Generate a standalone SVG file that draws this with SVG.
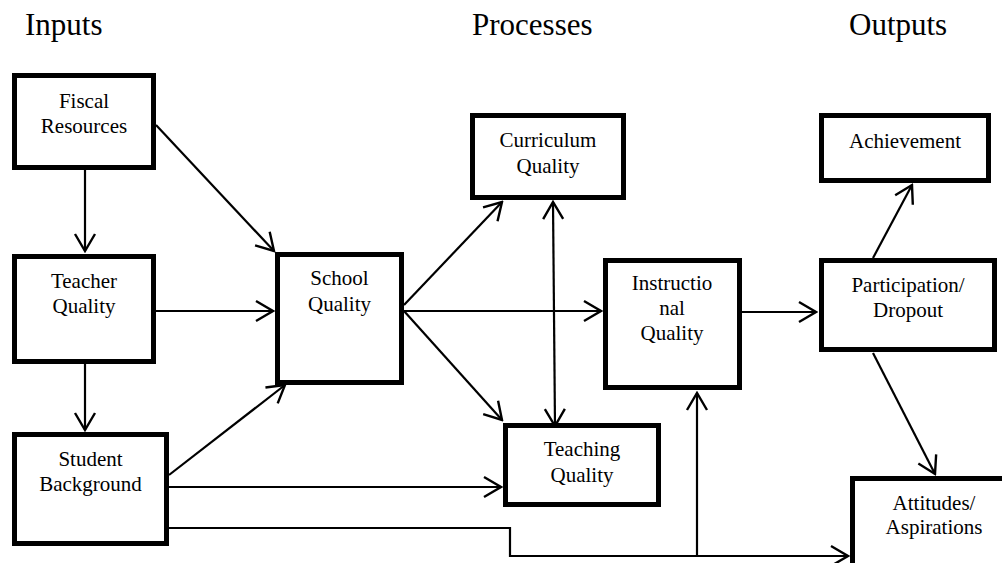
<svg xmlns="http://www.w3.org/2000/svg" width="1002" height="563" viewBox="0 0 1002 563">
<style>
  .box { fill: #fff; stroke: #000; stroke-width: 5; }
  text { font-family: 'Liberation Serif', 'DejaVu Serif', 'Times New Roman', Times, serif; fill: #000; }
  .lbl { font-size: 21px; text-anchor: middle; }
  .hdr { font-size: 31px; }
  .con { fill: none; stroke: #000; stroke-width: 2.2; }
</style>
<defs>
  <marker id="arr" markerUnits="userSpaceOnUse" viewBox="-19 -12 21 24" refX="0" refY="0" markerWidth="21" markerHeight="24" orient="auto-start-reverse">
    <path d="M-17,-10 L0,0 L-17,10" fill="none" stroke="#000" stroke-width="2.4" stroke-linejoin="miter"/>
  </marker>
</defs>
<rect width="1002" height="563" fill="#fff"/>

<g id="headers" font-family="Liberation Serif, DejaVu Serif, serif">
  <text class="hdr" x="25" y="35">Inputs</text>
  <text class="hdr" x="472" y="35">Processes</text>
  <text class="hdr" x="849" y="35">Outputs</text>
</g>

<g id="connectors">
  <line class="con" x1="85" y1="170" x2="85" y2="251" marker-end="url(#arr)"/>
  <line class="con" x1="85" y1="364" x2="85" y2="430" marker-end="url(#arr)"/>
  <line class="con" x1="156" y1="125" x2="274" y2="251" marker-end="url(#arr)"/>
  <line class="con" x1="156" y1="311" x2="273" y2="311" marker-end="url(#arr)"/>
  <line class="con" x1="169" y1="475" x2="285" y2="385" marker-end="url(#arr)"/>
  <line class="con" x1="169" y1="487" x2="501" y2="487" marker-end="url(#arr)"/>
  <polyline class="con" points="169,528 510,528 510,556 848,556" marker-end="url(#arr)"/>
  <line class="con" x1="697" y1="556" x2="697" y2="393" marker-end="url(#arr)"/>
  <line class="con" x1="404" y1="305" x2="502" y2="202" marker-end="url(#arr)"/>
  <line class="con" x1="404" y1="311" x2="601" y2="311" marker-end="url(#arr)"/>
  <line class="con" x1="404" y1="311" x2="502" y2="420" marker-end="url(#arr)"/>
  <line class="con" x1="553" y1="202" x2="555" y2="426" marker-start="url(#arr)" marker-end="url(#arr)"/>
  <line class="con" x1="742" y1="312" x2="816" y2="312" marker-end="url(#arr)"/>
  <line class="con" x1="873" y1="258" x2="912" y2="185" marker-end="url(#arr)"/>
  <line class="con" x1="873" y1="353" x2="935" y2="474" marker-end="url(#arr)"/>
</g>

<g id="fiscal">
  <rect class="box" x="14.5" y="75.5" width="139" height="92"/>
  <text class="lbl" x="84" y="108">Fiscal</text>
  <text class="lbl" x="84" y="133">Resources</text>
</g>
<g id="teacher">
  <rect class="box" x="14.5" y="256.5" width="139" height="105"/>
  <text class="lbl" x="84" y="288">Teacher</text>
  <text class="lbl" x="84" y="313">Quality</text>
</g>
<g id="student">
  <rect class="box" x="14.5" y="434.5" width="152" height="109"/>
  <text class="lbl" x="90.5" y="466">Student</text>
  <text class="lbl" x="90.5" y="491">Background</text>
</g>
<g id="school">
  <rect class="box" x="277.5" y="254.5" width="124" height="128"/>
  <text class="lbl" x="339.5" y="285">School</text>
  <text class="lbl" x="339.5" y="311">Quality</text>
</g>
<g id="curriculum">
  <rect class="box" x="472.5" y="115.5" width="151" height="82"/>
  <text class="lbl" x="548" y="147">Curriculum</text>
  <text class="lbl" x="548" y="173">Quality</text>
</g>
<g id="teaching">
  <rect class="box" x="505.5" y="425.5" width="153" height="79"/>
  <text class="lbl" x="582" y="456">Teaching</text>
  <text class="lbl" x="582" y="482">Quality</text>
</g>
<g id="instructional">
  <rect class="box" x="605.5" y="260.5" width="134" height="127"/>
  <text class="lbl" x="672" y="290">Instructio</text>
  <text class="lbl" x="672" y="315">nal</text>
  <text class="lbl" x="672" y="340">Quality</text>
</g>
<g id="achievement">
  <rect class="box" x="821.5" y="115.5" width="167" height="65"/>
  <text class="lbl" x="905" y="148">Achievement</text>
</g>
<g id="participation">
  <rect class="box" x="821.5" y="260.5" width="173" height="89"/>
  <text class="lbl" x="908" y="292">Participation/</text>
  <text class="lbl" x="908" y="317">Dropout</text>
</g>
<g id="attitudes">
  <rect class="box" x="852.5" y="478.5" width="163" height="100"/>
  <text class="lbl" x="934" y="510">Attitudes/</text>
  <text class="lbl" x="934" y="534">Aspirations</text>
</g>
</svg>
